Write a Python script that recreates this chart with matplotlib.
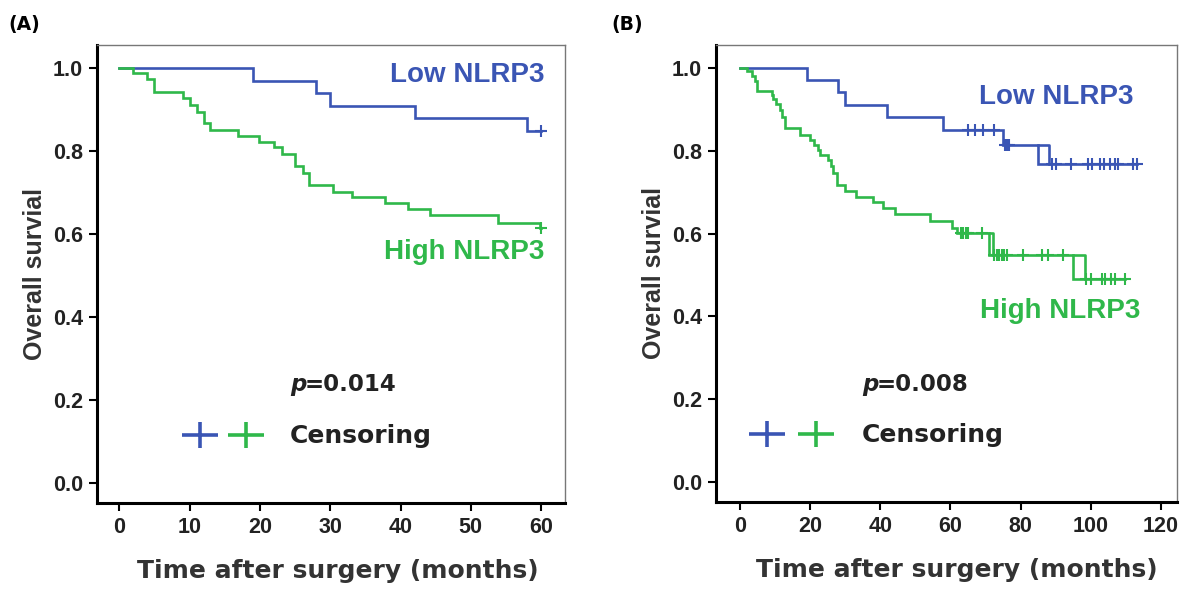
import matplotlib
matplotlib.use("Agg")
import matplotlib.pyplot as plt
from matplotlib.path import Path
import numpy as np

plt.rcParams['font.family'] = ['Liberation Sans', 'DejaVu Sans']
plt.rcParams['font.weight'] = 'bold'

BLUE = '#3a55b4'
GREEN = '#2fb84a'
TXT = '#222222'
WIDE = ['DejaVu Sans']   # the wide bold face used for several labels

# ---- panel A: event times / survival after each drop, censor times
a_low_t = [19, 28, 30, 42, 58]
a_low_s = [0.970, 0.940, 0.909, 0.879, 0.849]
a_low_cens = [60]

a_high_t = [2.0, 4.0, 4.9, 9.0, 10.1, 11.1, 12.0, 12.9, 16.9, 19.9, 22.0, 23.1,
            25.0, 26.1, 27.0, 30.4, 33.1, 37.8, 41.1, 44.2, 53.9, 59.9]
a_high_s = [0.988, 0.974, 0.942, 0.928, 0.911, 0.895, 0.867, 0.851, 0.837, 0.823,
            0.809, 0.793, 0.763, 0.747, 0.718, 0.702, 0.689, 0.674, 0.660, 0.646,
            0.627, 0.614]
a_high_cens = [60]

# ---- panel B
b_low_t = [19.2, 28, 29.9, 42, 58, 75.1, 85.0]
b_low_s = [0.972, 0.942, 0.911, 0.882, 0.851, 0.813, 0.769]
b_low_cens = [65.1, 67.0, 69.4, 72.3, 75.5, 76.1, 76.7, 88.8, 90.1, 94.3, 99.3,
              100.3, 102.6, 103.8, 105.5, 106.9, 107.8, 112.1, 113.1]
b_low_box = [(85.0, 88.2)]

b_high_t = [1.9, 3.3, 4.3, 4.9, 9.0, 9.5, 10.3, 11.4, 11.9, 12.8, 17.1, 20.0, 21.0,
            22.3, 22.9, 25.2, 25.8, 26.6, 27.6, 29.9, 33.1, 38.0, 40.9, 44.2, 54.2,
            60.3, 61.8, 71.0, 95.0]
b_high_s = [0.992, 0.982, 0.970, 0.944, 0.936, 0.925, 0.914, 0.899, 0.883, 0.855,
            0.839, 0.827, 0.815, 0.803, 0.790, 0.779, 0.764, 0.747, 0.718, 0.704,
            0.689, 0.676, 0.662, 0.648, 0.630, 0.614, 0.602, 0.547, 0.491]
b_high_cens = [62.9, 63.7, 64.4, 65.1, 68.9, 72.4, 73.2, 73.9, 74.6, 75.3, 76.0,
               80.8, 86.0, 87.9, 92.0, 98.6, 100.0, 103.1, 104.0, 105.9, 106.9, 109.7]
b_high_box = [(71.0, 72.2), (95.0, 98.3)]

# a slightly flat "+" for the censoring key
key_cross = Path([(-0.6, 0), (0.6, 0), (0, -0.42), (0, 0.42)],
                 [Path.MOVETO, Path.LINETO, Path.MOVETO, Path.LINETO])


def level_at(t_ev, s_ev, t):
    # survival value of the step curve at time t
    s = 1.0
    for te, se in zip(t_ev, s_ev):
        if te <= t:
            s = se
    return s


def km(ax, t_ev, s_ev, cens, color, boxes=()):
    t_end = max(cens + list(t_ev))
    xs = [0] + list(t_ev) + [t_end]
    ys = [1.0] + list(s_ev) + [s_ev[-1]]
    ax.step(xs, ys, where='post', color=color, lw=1.9, solid_joinstyle='miter')
    cy = [level_at(t_ev, s_ev, c) for c in cens]
    ax.plot(cens, cy, ls='none', marker='+', ms=8, mew=1.5, color=color)
    for t1, t2 in boxes:
        upper = level_at(t_ev, s_ev, t1 - 1e-6)
        lower = level_at(t_ev, s_ev, t1)
        ax.plot([t1, t2, t2], [upper, upper, lower], color=color, lw=1.9)


def style(ax, xlim, xticks, xlab_x):
    ax.set_xlim(*xlim)
    ax.set_ylim(-0.049, 1.056)
    ax.set_xticks(xticks)
    ax.set_yticks([0, 0.2, 0.4, 0.6, 0.8, 1.0])
    ax.set_yticklabels(['0.0', '0.2', '0.4', '0.6', '0.8', '1.0'])
    for s in ['left', 'bottom']:
        ax.spines[s].set_linewidth(2.2)
        ax.spines[s].set_color('black')
    for s in ['top', 'right']:
        ax.spines[s].set_linewidth(1.0)
        ax.spines[s].set_color('#777777')
    ax.tick_params(direction='out', length=6, width=1.5, labelsize=15.5, pad=4,
                   colors='black', labelcolor=TXT)
    for lab in ax.get_xticklabels() + ax.get_yticklabels():
        lab.set_fontweight('bold')
    ax.set_xlabel('Time after surgery (months)', fontsize=18, fontweight='bold',
                  family=WIDE, color='#333333')
    ax.xaxis.set_label_coords(xlab_x, -0.122)
    ax.set_ylabel('Overall survial', fontsize=18, fontweight='bold',
                  color='#333333', labelpad=4)


fig = plt.figure(figsize=(11.95, 5.91), dpi=100)
axA = fig.add_axes([0.0812, 0.1489, 0.3916, 0.775])
axB = fig.add_axes([0.5992, 0.1506, 0.3858, 0.7733])

km(axA, a_low_t, a_low_s, a_low_cens, BLUE)
km(axA, a_high_t, a_high_s, a_high_cens, GREEN)
style(axA, (-3.17, 63.4), [0, 10, 20, 30, 40, 50, 60], 0.514)

km(axB, b_low_t, b_low_s, b_low_cens, BLUE, b_low_box)
km(axB, b_high_t, b_high_s, b_high_cens, GREEN, b_high_box)
style(axB, (-6.84, 124.6), [0, 20, 40, 60, 80, 100, 120], 0.522)

# group labels, p values, censoring key
for ax, low_xy, high_xy, pval, px, bx, gx in [
        (axA, (0.957, 0.934), (0.957, 0.548), '0.014', 0.412, 0.219, 0.318),
        (axB, (0.905, 0.887), (0.920, 0.418), '0.008', 0.317, 0.111, 0.217)]:
    ax.text(*low_xy, 'Low NLRP3', color=BLUE, fontsize=20, fontweight='bold',
            ha='right', va='center', transform=ax.transAxes)
    ax.text(*high_xy, 'High NLRP3', color=GREEN, fontsize=20, fontweight='bold',
            ha='right', va='center', transform=ax.transAxes)
    ax.text(px, 0.258, 'p', color=TXT, fontsize=16.5, family=WIDE,
            fontweight='bold', style='italic', ha='left', va='center',
            transform=ax.transAxes)
    ax.text(px + 0.031, 0.258, '=' + pval, color=TXT, fontsize=16.5, family=WIDE,
            fontweight='bold', ha='left', va='center', transform=ax.transAxes)
    ax.plot([bx], [0.149], marker=key_cross, ms=26, mew=2.6, color=BLUE,
            transform=ax.transAxes, clip_on=False)
    ax.plot([gx], [0.149], marker=key_cross, ms=26, mew=2.6, color=GREEN,
            transform=ax.transAxes, clip_on=False)
    ax.text(px, 0.146, 'Censoring', color=TXT, fontsize=18, fontweight='bold',
            family=WIDE, ha='left', va='center', transform=ax.transAxes)

fig.text(0.007, 0.959, '(A)', fontsize=13.5, fontweight='bold', family=WIDE,
         va='center')
fig.text(0.512, 0.959, '(B)', fontsize=13.5, fontweight='bold', family=WIDE,
         va='center')

fig.savefig('out.png', dpi=100)
